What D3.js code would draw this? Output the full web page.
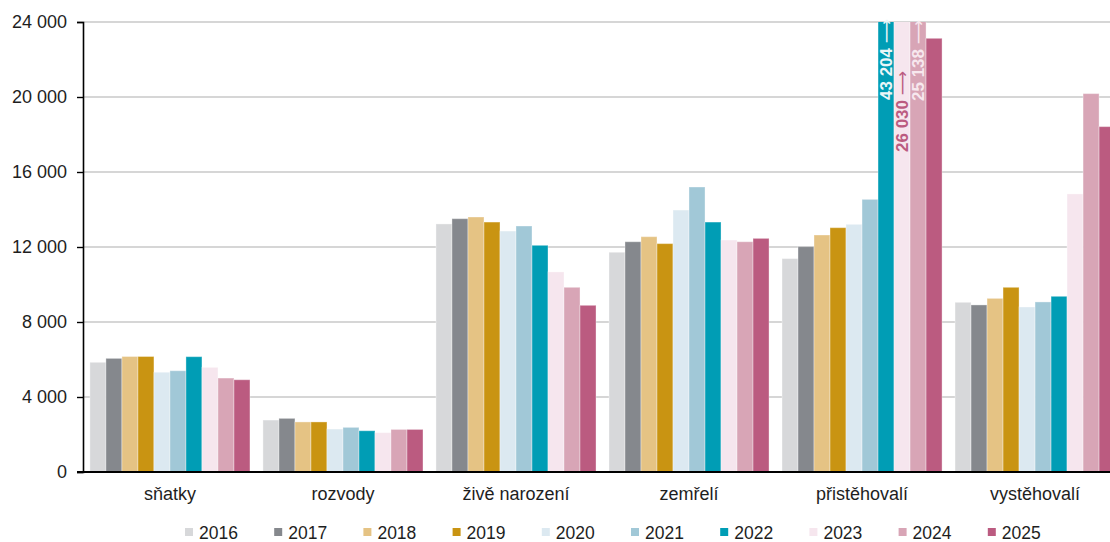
<!DOCTYPE html>
<html lang="cs">
<head>
    <meta charset="UTF-8">
    <title>Pohyb obyvatelstva</title>
    <script src="https://d3js.org/d3.v7.min.js"></script>
    <style>
        body { margin: 0; background: #fff; }
        text { font-family: "Liberation Sans", Arial, sans-serif; fill: #1e1e1e; }
        .grid line { stroke: #c9c9c9; stroke-width: 1.6px; }
        .axis path, .axis line { stroke: #000; }
        .bar { stroke: rgba(255,255,255,0.35); stroke-width: 1px; }
        .cat { font-size: 18px; text-anchor: middle; }
        .legend text { font-size: 17.5px; }
        .note { font-size: 17px; font-weight: bold; }
        .note .arrow { font-weight: normal; font-family: "DejaVu Sans", sans-serif; }
    </style>
</head>
<body>
<svg width="1110" height="542"></svg>
<script>
    const width = 1110;
    const height = 542;

    const categories = ["sňatky", "rozvody", "živě narození", "zemřelí", "přistěhovalí", "vystěhovalí"];
    const years = ["2016", "2017", "2018", "2019", "2020", "2021", "2022", "2023", "2024", "2025"];
    const colors = ["#d7d8da", "#85888d", "#e5c384", "#c99412", "#dce9f1", "#a1c8d7", "#009db5", "#f6e6ee", "#d8a5b6", "#bb5b80"];

    // values per year, one entry per category
    const v2016 = [5850, 2770, 13230, 11720, 11380, 9050];
    const v2017 = [6060, 2860, 13510, 12280, 12020, 8910];
    const v2018 = [6160, 2670, 13600, 12550, 12640, 9260];
    const v2019 = [6160, 2670, 13330, 12180, 13030, 9850];
    const v2020 = [5320, 2290, 12850, 13970, 13210, 8800];
    const v2021 = [5400, 2380, 13120, 15200, 14540, 9070];
    const v2022 = [6150, 2200, 12090, 13330, 43204, 9370];
    const v2023 = [5580, 2100, 10670, 12370, 26030, 14830];
    const v2024 = [5010, 2270, 9850, 12280, 25138, 20180];
    const v2025 = [4920, 2270, 8890, 12460, 23130, 18420];
    const series = [v2016, v2017, v2018, v2019, v2020, v2021, v2022, v2023, v2024, v2025];

    const yTicks = [0, 4000, 8000, 12000, 16000, 20000, 24000];

    // bars above the axis maximum, labelled with their real value
    const overflowNotes = [
        { cat: "přistěhovalí", year: "2022", color: "#eaf6f8", start: 100 },
        { cat: "přistěhovalí", year: "2023", color: "#bb5b80", start: 152 },
        { cat: "přistěhovalí", year: "2024", color: "#f7e8ee", start: 101 }
    ];

    const svg = d3.select("svg");

    const x0 = d3.scaleBand()
        .domain(categories)
        .range([83, 1122])
        .paddingInner(0.075)
        .paddingOuter(0.04);

    const x1 = d3.scaleBand()
        .domain(years)
        .range([0, x0.bandwidth()])
        .padding(0);

    const y = d3.scaleLinear()
        .domain([0, 24000])
        .range([472, 22]);

    const color = d3.scaleOrdinal().domain(years).range(colors);

    const cz = d3.formatLocale({ decimal: ",", thousands: " ", grouping: [3], currency: ["", ""] });
    const fmt = cz.format(",d");

    // gridlines
    svg.append("g")
        .attr("class", "grid")
        .selectAll("line")
        .data(yTicks.slice(1))
        .enter().append("line")
        .attr("x1", 83)
        .attr("x2", width)
        .attr("y1", d => y(d))
        .attr("y2", d => y(d));

    svg.append("clipPath")
        .attr("id", "plot")
        .append("rect")
        .attr("x", 83).attr("y", y(24000))
        .attr("width", width - 83).attr("height", y(0) - y(24000));

    const rows = [];
    categories.forEach((c, ci) => {
        years.forEach((yr, yi) => rows.push({ cat: c, year: yr, value: series[yi][ci] }));
    });

    svg.append("g")
        .attr("clip-path", "url(#plot)")
        .selectAll("rect")
        .data(rows)
        .enter().append("rect")
        .attr("class", "bar")
        .attr("x", d => x0(d.cat) + x1(d.year))
        .attr("y", d => y(d.value))
        .attr("width", x1.bandwidth())
        .attr("height", d => y(0) - y(d.value))
        .attr("fill", d => color(d.year));

    // rotated value labels for the cut bars
    overflowNotes.forEach(n => {
        const val = series[years.indexOf(n.year)][categories.indexOf(n.cat)];
        const cx = x0(n.cat) + x1(n.year) + x1.bandwidth() / 2;
        const t = svg.append("text")
            .attr("class", "note")
            .attr("transform", `translate(${cx},${n.start}) rotate(-90)`)
            .attr("dy", "0.36em")
            .style("fill", n.color);
        t.append("tspan").text(fmt(val) + " ");
        t.append("tspan").attr("class", "arrow").style("fill", n.color).text("\u27F6");
    });

    // y axis
    const yAxis = svg.append("g")
        .attr("class", "axis")
        .attr("transform", "translate(83,0)")
        .call(d3.axisLeft(y).tickValues(yTicks).tickSize(6).tickPadding(10).tickFormat(fmt));
    yAxis.select(".domain").attr("stroke-width", 1.6);
    yAxis.selectAll(".tick line").attr("stroke-width", 1.4);
    yAxis.selectAll("text").style("font-size", "18px").style("fill", "#1e1e1e");

    // x axis line
    svg.append("line")
        .attr("x1", 77).attr("x2", width)
        .attr("y1", y(0)).attr("y2", y(0))
        .attr("stroke", "#000")
        .attr("stroke-width", 1.8);

    svg.append("g")
        .selectAll("text")
        .data(categories)
        .enter().append("text")
        .attr("class", "cat")
        .attr("x", d => x0(d) + x0.bandwidth() / 2)
        .attr("y", 500)
        .text(d => d);

    // legend
    const legend = svg.append("g")
        .attr("class", "legend")
        .attr("transform", "translate(185,528)");

    const item = legend.selectAll("g")
        .data(years)
        .enter().append("g")
        .attr("transform", (d, i) => `translate(${i * 89.2},0)`);

    item.append("rect")
        .attr("width", 8)
        .attr("height", 8)
        .attr("fill", d => color(d));

    item.append("text")
        .attr("x", 14)
        .attr("y", 11)
        .text(d => d);
</script>
</body>
</html>
